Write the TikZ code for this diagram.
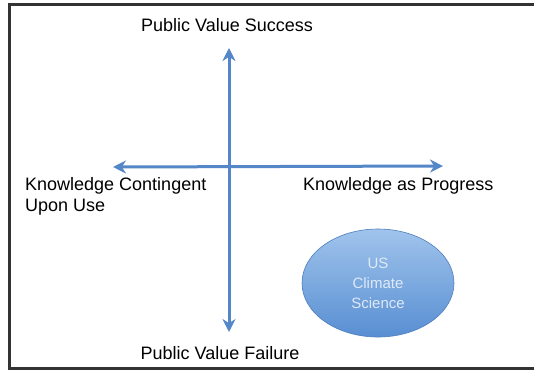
\documentclass[tikz,border=0pt]{standalone}
\usepackage{fontspec}
\setmainfont{Liberation Sans}
\usetikzlibrary{arrows.meta,shapes.geometric}
\definecolor{axisblue}{RGB}{84,135,200}
\definecolor{ovaltop}{RGB}{160,196,236}
\definecolor{ovalbot}{RGB}{88,142,210}
\definecolor{ovaledge}{RGB}{78,126,190}
\definecolor{ovaltext}{RGB}{222,233,247}
\tikzset{
    axis/.style={draw=axisblue,line width=3pt,{Stealth[length=13pt,width=13pt]}-{Stealth[length=13pt,width=13pt]}},
    label/.style={inner sep=0pt,font=\fontsize{18}{21}\selectfont},
    oval/.style={ellipse,draw=ovaledge,line width=0.6pt,top color=ovaltop,bottom color=ovalbot,
        minimum width=152pt,minimum height=108pt,inner sep=0pt,align=center,text=ovaltext,
        font=\fontsize{15}{20}\selectfont}
}
\begin{document}
\begin{tikzpicture}[x=1pt,y=-1pt]
    \clip (0,0) rectangle (534,370);
    \fill[white] (0,0) rectangle (534,370);
    \draw[black!80,line width=2.5pt] (9.5,4.5) rectangle (540,368.5);

    \coordinate (up) at (229,48);
    \coordinate (down) at (229,332);
    \coordinate (left) at (113,167);
    \coordinate (right) at (443,166);
    \draw[axis] (down) -- (up);
    \draw[axis] (left) -- (right);

    \node[label] (success) at (227,25) {Public Value Success};
    \node[label] (failure) at (220,353) {Public Value Failure};
    \node[label,anchor=west,align=left] (contingent) at (25,196) {Knowledge Contingent\\Upon Use};
    \node[label,anchor=west] (progress) at (303,186) {Knowledge as Progress};
    \node[oval] (science) at (378,283) {US\\Climate\\Science};
\end{tikzpicture}
\end{document}
